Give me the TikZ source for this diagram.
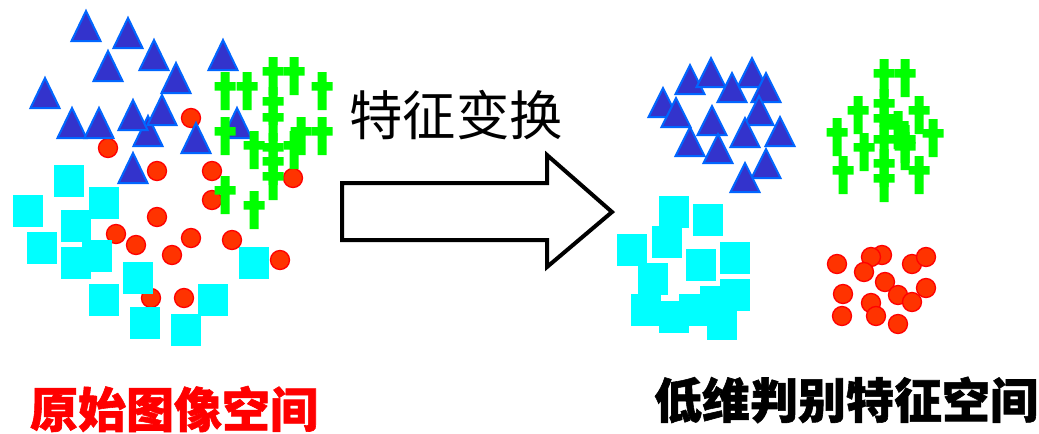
\documentclass[tikz,border=0pt]{standalone}
\usepackage{fontspec}
\usepackage{tikz}
\newfontfamily\cjk{Noto Sans CJK SC}
\newfontfamily\cjkheavy{Noto Sans CJK SC}[BoldFeatures={FakeBold=1.2}]

\definecolor{tribody}{HTML}{3333CC}
\definecolor{triedge}{HTML}{0066FF}
\definecolor{dotbody}{HTML}{FF3300}
\definecolor{crossgreen}{HTML}{00FF00}
\definecolor{sqcyan}{HTML}{00FFFF}

\tikzset{
  tri/.style={fill=tribody, draw=triedge, line width=1.5pt},
  sq/.style={fill=sqcyan},
  dot/.style={fill=dotbody, draw=red, line width=1pt},
  crossbar/.style={fill=crossgreen},
  bigarrow/.style={draw=black, line width=3pt, fill=white},
}

\begin{document}
\begin{tikzpicture}[x=0.75pt, y=-0.75pt]
	\useasboundingbox (0,0) rectangle (1039,433);
	
	% Original image space: circles
	\foreach \x/\y in {191/118, 108/148, 157/171, 212/171, 293/178, 212/200, 157/217, 116/234,
		136/245, 191/238, 172/255, 232/240, 280/260, 151/298, 184/298} {
		\draw[dot] (\x,\y) circle (9.5);
	}
	
	% Original image space: triangles
	\foreach \x/\y in {86/10, 128/17, 154/39, 108/50, 223/39, 176/62, 45/77, 72/107, 99/107,
		148/115, 133/99, 162/94, 237/107, 196/122, 133/152} {
		\draw[tri] (\x,\y+1) -- (\x+14.5,\y+31) -- (\x-14.5,\y+31) -- cycle;
	}
	
	% Original image space: squares
	\foreach \x/\y in {69/181, 28/211, 104/203, 76/226, 42/248, 76/263, 97/256, 138/278,
		254/263, 104/300, 213/300, 145/323, 186/330} {
		\fill[sq] (\x-15,\y-16) rectangle (\x+15,\y+16);
	}
	
	% Original image space: crosses
	\foreach \x/\y in {225/72, 247/72, 273/57, 294/57, 322/72, 273/87, 273/103, 225/117,
		301/117, 322/117, 254/131, 294/131, 273/133, 273/147, 273/162, 225/176, 254/191} {
		\fill[crossbar] (\x-4.5,\y) rectangle (\x+4.5,\y+38)
			(\x-10.5,\y+10) rectangle (\x+10.5,\y+18.5);
	}
	
	% Transformation arrow
	\draw[bigarrow] (342,183) -- (547,183) -- (547,155) -- (612,212) -- (547,267)
		-- (547,240) -- (342,240) -- cycle;
	\node[inner sep=0pt] (trans) at (456,115) {\cjk\fontsize{40}{40}\selectfont 特征变换};
	
	% Low-dimensional feature space: triangles
	\foreach \x/\y in {663/87, 690/64, 711/57, 752/57, 732/72, 766/72, 676/97, 712/105,
		759/95, 690/126, 718/133, 745/117, 780/116, 766/148, 745/162} {
		\draw[tri] (\x,\y+1) -- (\x+14.5,\y+30) -- (\x-14.5,\y+30) -- cycle;
	}
	
	% Low-dimensional feature space: squares
	\foreach \x/\y in {674/212, 708/220, 632/250, 667/242, 701/265, 735/258, 653/279,
		646/310, 674/317, 694/310, 715/302, 735/295, 722/324} {
		\fill[sq] (\x-15,\y-16) rectangle (\x+15,\y+16);
	}
	
	% Low-dimensional feature space: crosses
	\foreach \x/\y in {884/59, 905/59, 884/89, 884/104, 858/96, 919/96, 898/111, 884/125,
		837/118, 933/119, 905/125, 864/133, 905/132, 843/156, 919/156, 884/149, 884/164} {
		\fill[crossbar] (\x-4.5,\y) rectangle (\x+4.5,\y+38)
			(\x-10.5,\y+10) rectangle (\x+10.5,\y+18.5);
	}
	
	% Low-dimensional feature space: circles
	\foreach \x/\y in {837/264, 882/255, 871/257, 864/272, 912/264, 926/257, 885/282, 843/294,
		898/295, 912/302, 926/288, 871/303, 842/316, 876/316, 898/324} {
		\draw[dot] (\x,\y) circle (9.5);
	}
	
	% Labels
	\node[inner sep=0pt, text=red] (orig) at (174,409)
		{\cjkheavy\bfseries\fontsize{36}{36}\selectfont 原始图像空间};
	\node[inner sep=0pt] (lowdim) at (846,400)
		{\cjkheavy\bfseries\fontsize{36}{36}\selectfont 低维判别特征空间};
	
\end{tikzpicture}
\end{document}
